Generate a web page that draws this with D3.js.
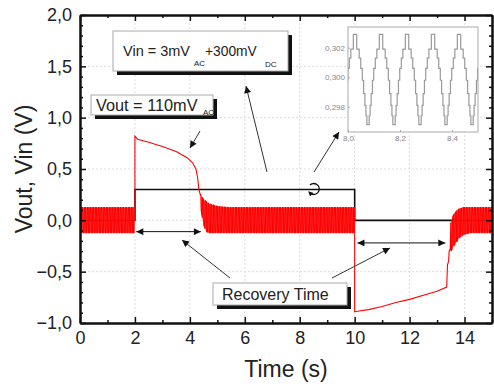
<!DOCTYPE html>
<html>
<head>
<meta charset="utf-8">
<script src="https://cdn.jsdelivr.net/npm/d3@7"></script>
<style>
  body { margin: 0; background: #fff; }
  svg { display: block; font-family: "Liberation Sans", Arial, sans-serif; }
</style>
</head>
<body>
<div id="chart"></div>
<script>
// axis ticks
const xMajor = [0, 2, 4, 6, 8, 10, 12, 14];
const xMinor = [1, 3, 5, 7, 9, 11, 13, 15];
const yMajor = [-1.0, -0.5, 0.0, 0.5, 1.0, 1.5, 2.0];
const yMinor = [-0.9, -0.8, -0.7, -0.6, -0.4, -0.3, -0.2, -0.1, 0.1, 0.2, 0.3, 0.4,
  0.6, 0.7, 0.8, 0.9, 1.1, 1.2, 1.3, 1.4, 1.6, 1.7, 1.8, 1.9];

// Vin (black)
const vinT = [0, 2, 2, 10, 10, 15];
const vinV = [0, 0, 0.3, 0.3, 0, 0];

// Vout (red): oscillation period and envelopes of the ripple band
const ripplePeriod = 0.1;
const band1T = [0, 2];
const band1Hi = [0.125, 0.125];
const band1Lo = [-0.12, -0.12];
// step response 2s..4.4s
const riseT = [2.0, 2.1, 2.5, 3.0, 3.5, 3.9, 4.1, 4.22, 4.28, 4.33, 4.38];
const riseV = [0.82, 0.79, 0.76, 0.72, 0.67, 0.61, 0.56, 0.5, 0.42, 0.3, 0.25];
const band2T = [4.4, 4.5, 4.6, 4.7, 5.0, 5.4, 10];
const band2Hi = [0.25, 0.2, 0.18, 0.16, 0.135, 0.125, 0.125];
const band2Lo = [0.1, -0.05, -0.11, -0.12, -0.12, -0.12, -0.12];
// negative step response 10s..13.5s
const fallT = [10.0, 10.5, 11, 11.5, 12, 12.5, 13, 13.35, 13.38, 13.42, 13.44, 13.48];
const fallV = [-0.89, -0.87, -0.84, -0.8, -0.77, -0.73, -0.69, -0.65, -0.43, -0.4, -0.3, -0.28];
const band3T = [13.5, 13.6, 13.75, 13.8, 13.95, 14.2, 15];
const band3Hi = [-0.02, 0.06, 0.1, 0.11, 0.125, 0.125, 0.125];
const band3Lo = [-0.3, -0.25, -0.19, -0.17, -0.14, -0.12, -0.12];

// inset: one period of Vin ripple (start time in period, level)
const insetPhase0 = 8.027;
const insetPeriod = 0.1;
const insetStepT = [0.000, 0.0065, 0.016, 0.022, 0.028, 0.033, 0.038, 0.042, 0.0455,
  0.0545, 0.058, 0.062, 0.067, 0.072, 0.078, 0.084, 0.0935];
const insetStepV = [0.3029, 0.3019, 0.3013, 0.3006, 0.2998, 0.2989, 0.2981, 0.2974, 0.2968,
  0.2974, 0.2981, 0.2989, 0.2998, 0.3006, 0.3013, 0.3019, 0.3029];
const insetXTicks = [8.0, 8.2, 8.4];
const insetYTicks = [0.298, 0.300, 0.302];

const W = 494, H = 384;
const margin = { top: 15, right: 2, bottom: 61, left: 80 };

const svg = d3.select('#chart').append('svg')
  .attr('width', W)
  .attr('height', H);

const x = d3.scaleLinear().domain([0, 15]).range([margin.left, W - margin.right]);
const y = d3.scaleLinear().domain([-1, 2]).range([H - margin.bottom, margin.top]);
const comma = f => (v => d3.format(f)(v).replace('.', ','));

const defs = svg.append('defs');
defs.append('marker')
  .attr('id', 'ah')
  .attr('viewBox', '0 0 10 10')
  .attr('refX', 10).attr('refY', 5)
  .attr('markerWidth', 8).attr('markerHeight', 7)
  .attr('markerUnits', 'userSpaceOnUse')
  .attr('orient', 'auto-start-reverse')
  .append('path').attr('d', 'M0,0L10,5L0,10z').attr('fill', '#111');
defs.append('marker')
  .attr('id', 'ahs')
  .attr('viewBox', '0 0 10 10')
  .attr('refX', 5).attr('refY', 5)
  .attr('markerWidth', 5).attr('markerHeight', 5)
  .attr('markerUnits', 'userSpaceOnUse')
  .attr('orient', 'auto')
  .append('path').attr('d', 'M0,0L10,5L0,10z').attr('fill', '#111');
defs.append('clipPath').attr('id', 'plotclip')
  .append('rect')
  .attr('x', x(0)).attr('y', y(2))
  .attr('width', x(15) - x(0)).attr('height', y(-1) - y(2));

// grid
const grid = svg.append('g').attr('stroke', '#dcdcdc').attr('stroke-dasharray', '2,2');
grid.selectAll('.gx').data(xMajor.filter(d => d > 0)).enter().append('line')
  .attr('x1', d => x(d)).attr('x2', d => x(d)).attr('y1', y(2)).attr('y2', y(-1));
grid.selectAll('.gy').data(yMajor.filter(d => d > -1 && d < 2)).enter().append('line')
  .attr('y1', d => y(d)).attr('y2', d => y(d)).attr('x1', x(0)).attr('x2', x(15));

// build Vout path
const voutPts = [];
const bands = [];
function addBand(tArr, hi, lo) {
  const hiS = d3.scaleLinear().domain(tArr).range(hi);
  const loS = d3.scaleLinear().domain(tArr).range(lo);
  const t0 = tArr[0], t1 = tArr[tArr.length - 1];
  const n = Math.round((t1 - t0) / (ripplePeriod / 2));
  const area = [];
  for (let i = 0; i <= n; i++) {
    const t = t0 + (t1 - t0) * i / n;
    // ripple drawn as near-vertical strokes between the envelopes
    const a = i % 2 === 0 ? hiS(t) : loS(t);
    const b = i % 2 === 0 ? loS(t) : hiS(t);
    voutPts.push([t, a]);
    if (i < n) voutPts.push([t + 0.012, b]);
    area.push([t, hiS(t), loS(t)]);
  }
  bands.push(area);
}
function addCurve(tArr, vArr) {
  tArr.forEach((t, i) => voutPts.push([t, vArr[i]]));
}
addBand(band1T, band1Hi, band1Lo);
addCurve(riseT, riseV);
addBand(band2T, band2Hi, band2Lo);
addCurve(fallT, fallV);
addBand(band3T, band3Hi, band3Lo);

const line = d3.line().x(d => x(d[0])).y(d => y(d[1]));
const plot = svg.append('g').attr('clip-path', 'url(#plotclip)');

plot.append('path')
  .datum(vinT.map((t, i) => [t, vinV[i]]))
  .attr('fill', 'none').attr('stroke', '#111').attr('stroke-width', 1.6)
  .attr('d', line);

const bandArea = d3.area().x(d => x(d[0])).y0(d => y(d[2])).y1(d => y(d[1]));
plot.selectAll('.band').data(bands).enter().append('path')
  .attr('fill', '#ff2020').attr('opacity', 0.8)
  .attr('d', bandArea);

plot.append('path')
  .datum(voutPts)
  .attr('fill', 'none').attr('stroke', '#f00').attr('stroke-width', 1.1)
  .attr('d', line);

// axes
const fontTick = 18;
function styleAxis(g) {
  g.select('.domain').attr('stroke', '#111').attr('stroke-width', 2);
  g.selectAll('.tick line').attr('stroke', '#111').attr('stroke-width', 1.5);
  g.selectAll('text').attr('font-size', fontTick).attr('fill', '#222')
    .attr('font-family', '"Liberation Sans", Arial, sans-serif');
}
svg.append('g').attr('transform', `translate(0,${y(-1)})`)
  .call(d3.axisBottom(x).tickValues(xMajor).tickSize(-6).tickSizeOuter(0).tickPadding(8).tickFormat(d3.format('d')))
  .call(styleAxis);
svg.append('g').attr('transform', `translate(0,${y(-1)})`)
  .call(d3.axisBottom(x).tickValues(xMinor).tickSize(-3).tickSizeOuter(0).tickFormat(''))
  .call(styleAxis);
svg.append('g').attr('transform', `translate(0,${y(2)})`)
  .call(d3.axisTop(x).tickValues(xMajor).tickSize(-6).tickSizeOuter(0).tickFormat(''))
  .call(styleAxis);
svg.append('g').attr('transform', `translate(0,${y(2)})`)
  .call(d3.axisTop(x).tickValues(xMinor).tickSize(-3).tickSizeOuter(0).tickFormat(''))
  .call(styleAxis);
svg.append('g').attr('transform', `translate(${x(0)},0)`)
  .call(d3.axisLeft(y).tickValues(yMajor).tickSize(-6).tickSizeOuter(0).tickPadding(8).tickFormat(comma('.1f')))
  .call(styleAxis);
svg.append('g').attr('transform', `translate(${x(0)},0)`)
  .call(d3.axisLeft(y).tickValues(yMinor).tickSize(-3).tickSizeOuter(0).tickFormat(''))
  .call(styleAxis);
svg.append('g').attr('transform', `translate(${x(15)},0)`)
  .call(d3.axisRight(y).tickValues(yMajor).tickSize(-6).tickSizeOuter(0).tickFormat(''))
  .call(styleAxis);
svg.append('g').attr('transform', `translate(${x(15)},0)`)
  .call(d3.axisRight(y).tickValues(yMinor).tickSize(-3).tickSizeOuter(0).tickFormat(''))
  .call(styleAxis);

// axis titles
svg.append('text')
  .attr('x', (x(0) + x(15)) / 2).attr('y', 377)
  .attr('text-anchor', 'middle').attr('font-size', 23).attr('fill', '#222')
  .text('Time (s)');
svg.append('text')
  .attr('transform', `translate(32,${(y(-1) + y(2)) / 2}) rotate(-90)`)
  .attr('text-anchor', 'middle').attr('font-size', 23).attr('fill', '#222')
  .text('Vout, Vin (V)');

// annotation boxes with shadow
function box(x0, y0, w, h) {
  svg.append('rect').attr('x', x0 + 4).attr('y', y0 + 4).attr('width', w).attr('height', h).attr('fill', '#111');
  svg.append('rect').attr('x', x0).attr('y', y0).attr('width', w).attr('height', h)
    .attr('fill', '#fff').attr('stroke', '#aaa').attr('stroke-width', 1);
}
function txt(x0, yb, size, s) {
  svg.append('text').attr('x', x0).attr('y', yb).attr('font-size', size).attr('fill', '#222').text(s);
}
box(113, 31, 175, 40);
txt(123, 56, 14.5, 'Vin = 3mV');
txt(194, 66, 8, 'AC');
txt(205, 56, 13.8, '+300mV');
txt(265, 67, 8, 'DC');
box(91, 95, 122, 20);
txt(96, 111, 16.3, 'Vout = 110mV');
txt(203, 115, 8, 'AC');
box(213, 283, 134, 22);
txt(222, 300, 16, 'Recovery Time');

// arrows
const arrows = [
  [200, 131, 190, 148],
  [267, 172, 246, 86],
  [314, 172, 339, 132],
  [230, 278, 182, 240],
  [332, 278, 390, 248]
];
svg.selectAll('.arr').data(arrows).enter().append('line')
  .attr('x1', d => d[0]).attr('y1', d => d[1]).attr('x2', d => d[2]).attr('y2', d => d[3])
  .attr('stroke', '#333').attr('stroke-width', 1).attr('marker-end', 'url(#ah)');
// recovery intervals (double arrows)
const spans = [[2.05, 4.4, -0.11], [10.1, 13.3, -0.22]];
svg.selectAll('.span').data(spans).enter().append('line')
  .attr('x1', d => x(d[0])).attr('x2', d => x(d[1])).attr('y1', d => y(d[2])).attr('y2', d => y(d[2]))
  .attr('stroke', '#111').attr('stroke-width', 1)
  .attr('marker-start', 'url(#ah)').attr('marker-end', 'url(#ah)');
// zoom symbol on Vin
svg.append('path')
  .attr('d', 'M310,185 A5.5,5.5 0 1,1 310,193')
  .attr('fill', 'none').attr('stroke', '#111').attr('stroke-width', 1.3)
  .attr('marker-end', 'url(#ahs)');

// inset
const xi = d3.scaleLinear().domain([8.0, 8.5]).range([348, 478]);
const yi = d3.scaleLinear().domain([0.2963, 0.3034]).range([132, 27]);
svg.append('rect').attr('x', 348).attr('y', 27).attr('width', 130).attr('height', 105)
  .attr('fill', '#fff').attr('stroke', '#aaa').attr('stroke-width', 1);
defs.append('clipPath').attr('id', 'insetclip')
  .append('rect').attr('x', 348).attr('y', 27).attr('width', 130).attr('height', 105);
const insetPts = [];
for (let k = -1; k < 6; k++) {
  insetStepT.forEach((t, i) => insetPts.push([insetPhase0 + k * insetPeriod + t, insetStepV[i]]));
}
svg.append('path')
  .datum(insetPts)
  .attr('clip-path', 'url(#insetclip)')
  .attr('fill', 'none').attr('stroke', '#9a9a9a').attr('stroke-width', 1.2)
  .attr('d', d3.line().curve(d3.curveStepAfter).x(d => xi(d[0])).y(d => yi(d[1])));
const insetAxisStyle = g => {
  g.select('.domain').remove();
  g.selectAll('.tick line').attr('stroke', '#aaa');
  g.selectAll('text').attr('font-size', 8).attr('fill', '#888');
};
svg.append('g').attr('transform', 'translate(0,132)')
  .call(d3.axisBottom(xi).tickValues(insetXTicks).tickSize(-2).tickPadding(3).tickFormat(comma('.1f')))
  .call(insetAxisStyle);
svg.append('g').attr('transform', 'translate(348,0)')
  .call(d3.axisLeft(yi).tickValues(insetYTicks).tickSize(-2).tickPadding(3).tickFormat(comma('.3f')))
  .call(insetAxisStyle);
</script>
</body>
</html>
